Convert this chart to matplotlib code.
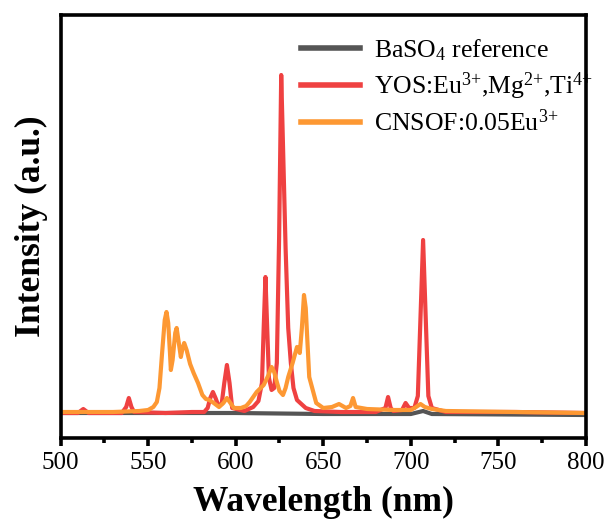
import matplotlib
matplotlib.use('Agg')
import matplotlib.pyplot as plt
from matplotlib.ticker import MultipleLocator

plt.rcParams['font.family'] = ['Liberation Serif', 'DejaVu Serif']
plt.rcParams['mathtext.fontset'] = 'custom'
plt.rcParams['mathtext.rm'] = 'Liberation Serif'
plt.rcParams['mathtext.it'] = 'Liberation Serif'

# ── data (wavelength nm, intensity a.u.) ──
wl_ref = [500, 550, 600, 650, 700, 707, 712, 800]
int_ref = [25, 25, 25, 24, 24, 27, 24, 23]

wl_yos = [500, 510, 511.5, 513, 514.5, 516, 535, 537.5, 539, 540.5, 542, 560,
          575, 582, 584, 585.5, 587, 588.5, 590, 592, 593.5, 595, 596.5, 598,
          605, 610, 613, 615, 616, 617, 618, 619, 620.5, 622, 623.5, 624.8,
          626, 627.2, 628.5, 630, 631.5, 633, 635, 640, 645, 660, 680, 685.5,
          687, 688.5, 690, 695, 697, 699, 702, 704, 705.5, 707, 708.5, 710,
          712, 720, 760, 800]
int_yos = [25, 25, 27, 29, 27, 25, 25, 31, 40, 31, 26, 25,
           26, 26, 30, 40, 46, 40, 33, 34, 55, 73, 55, 30,
           27, 31, 37, 55, 110, 161, 110, 60, 48, 50, 75, 200,
           363, 280, 190, 110, 75, 50, 38, 30, 27, 26, 26, 30,
           41, 30, 27, 28, 35, 30, 30, 42, 120, 198, 120, 42,
           30, 26, 26, 25]

wl_cnsof = [500, 530, 545, 550, 553, 555, 556.5, 558, 559.5, 560.5, 561.5,
            562.5, 563, 564, 565.5, 566.3, 567.3, 568.7, 569.7, 570.6, 572,
            574, 576, 578.5, 581, 583, 585, 587.5, 590.5, 593, 595, 597, 599,
            603, 606, 608, 612, 616, 618.5, 620.5, 622, 623.5, 625, 627,
            628.5, 630, 632.5, 635, 636.6, 637.8, 639, 640, 641, 642, 644,
            646, 650, 655, 659, 663, 665.5, 667, 668.5, 675, 690, 700, 703,
            705.5, 708, 712, 720, 760, 800]
int_cnsof = [26, 26, 27, 28, 31, 36, 50, 85, 118, 126, 115,
             85, 68, 78, 105, 110, 98, 81, 90, 95, 88,
             74, 65, 55, 43, 39, 38, 35, 31, 35, 40, 35, 30,
             30, 32, 36, 46, 53, 62, 71, 66, 56, 47, 43,
             50, 61, 75, 91, 85, 110, 143, 130, 95, 61, 48,
             35, 30, 31, 34, 30, 32, 40, 31, 29, 28, 28, 31,
             34, 31, 29, 27, 26, 25]

labels = [r'BaSO$_{\mathregular{4}}$ reference',
          r'YOS:Eu$^{\mathregular{3{+}}}$,Mg$^{\mathregular{2{+}}}$,Ti$^{\mathregular{4{+}}}$',
          r'CNSOF:0.05Eu$^{\mathregular{3{+}}}$']
colors = ['#555555', '#EF4141', '#FD9833']

fig = plt.figure(figsize=(6.1, 5.25), dpi=100)
ax = fig.add_axes([60.5 / 610, 1 - 438 / 525, 525.5 / 610, 423 / 525])

for x, y, lbl, c in zip([wl_ref, wl_yos, wl_cnsof],
                        [int_ref, int_yos, int_cnsof], labels, colors):
    ax.plot(x, y, color=c, lw=3, label=lbl, solid_joinstyle='round')

ax.set_xlim(500, 800)
ax.set_ylim(0, 423)
ax.xaxis.set_major_locator(MultipleLocator(50))
ax.xaxis.set_minor_locator(MultipleLocator(25))
ax.set_yticks([])
for sp in ax.spines.values():
    sp.set_linewidth(2.6)
ax.tick_params(axis='x', which='major', direction='out', length=6, width=2.6,
               labelsize=18, pad=4)
ax.tick_params(axis='x', which='minor', direction='out', length=3.5, width=2.6)

ax.set_xlabel('Wavelength (nm)', fontsize=25.5, fontweight='bold', labelpad=9)
ax.set_ylabel('Intensity (a.u.)', fontsize=25.5, fontweight='bold', labelpad=9)

leg = ax.legend(loc='upper left', bbox_to_anchor=(0.458, 0.948), frameon=False,
                fontsize=18.5, handlelength=2.3, handletextpad=0.55,
                labelspacing=0.3, borderaxespad=0, borderpad=0)
for h in leg.get_lines():
    h.set_linewidth(4)

fig.savefig('out.png', dpi=100, facecolor='white')
